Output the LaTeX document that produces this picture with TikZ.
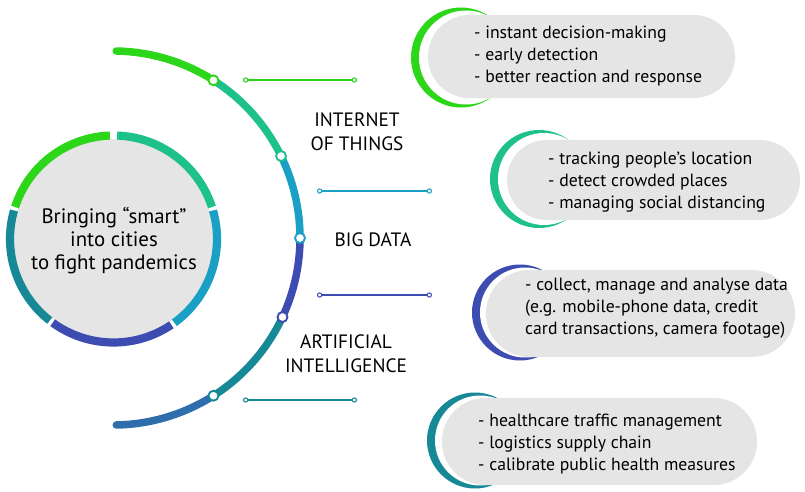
\documentclass[tikz,border=0pt]{standalone}
\usepackage{fontspec}
\setmainfont{PT Sans}
\usetikzlibrary{arrows.meta}

\definecolor{leafgreen}{RGB}{44,214,24}
\definecolor{mintgreen}{RGB}{30,192,140}
\definecolor{oceanblue}{RGB}{26,160,196}
\definecolor{deepindigo}{RGB}{60,76,176}
\definecolor{darkteal}{RGB}{22,136,150}
\definecolor{steelblue}{RGB}{46,110,172}
\definecolor{hubgray}{RGB}{229,229,229}

\tikzset{
  ring/.style={line width=7pt},
  band/.style={line width=6.4pt, line cap=round},
  dot/.style={circle, fill=white, draw=#1, line width=1.6pt, inner sep=0pt, minimum size=8.5pt},
  link/.style={draw=#1, line width=0.9pt, {Circle[open,length=4.5pt,width=4.5pt]}-{Circle[open,length=4.5pt,width=4.5pt]}},
  pill/.style={fill=hubgray, rectangle, inner sep=0pt},
  topic/.style={align=center, inner sep=0pt, font=\fontsize{16.5}{20.5}\selectfont},
  listtext/.style={align=left, inner sep=0pt, font=\fontsize{15.1}{18.8}\selectfont}
}

\begin{document}
\begin{tikzpicture}[x=0.03cm, y=0.03cm]
\useasboundingbox (0,0) rectangle (805,491);

% hub circle with its coloured ring
\fill[hubgray] (113.5,252) circle (100);
\draw[ring, leafgreen] (113.5,252) ++(92:103.5) arc[start angle=92, end angle=162, radius=103.5];
\draw[ring, mintgreen] (113.5,252) ++(18:103.5) arc[start angle=18, end angle=88, radius=103.5];
\draw[ring, oceanblue] (113.5,252) ++(-54:103.5) arc[start angle=-54, end angle=16, radius=103.5];
\draw[ring, deepindigo] (113.5,252) ++(-126:103.5) arc[start angle=-126, end angle=-56, radius=103.5];
\draw[ring, darkteal] (113.5,252) ++(164:103.5) arc[start angle=164, end angle=232, radius=103.5];
\node[align=center, inner sep=0pt, font=\fontsize{17.8}{19.6}\selectfont] (hub) at (114,250) {Bringing “smart”\\into cities\\to fight pandemics};

% big arc around the hub
\begin{scope}[shift={(113,253)}]
\draw[band, leafgreen] (89:187) arc[start angle=89, end angle=57.5, radius=187];
\draw[band, mintgreen] (57.5:187) arc[start angle=57.5, end angle=26, radius=187];
\draw[band, oceanblue] (26:187) arc[start angle=26, end angle=0, radius=187];
\draw[band, deepindigo] (0:187) arc[start angle=0, end angle=-25, radius=187];
\draw[band, darkteal] (-25:187) arc[start angle=-25, end angle=-57.5, radius=187];
\draw[band, steelblue] (-57.5:187) arc[start angle=-57.5, end angle=-89, radius=187];
\node[dot=leafgreen] (d1) at (57.5:187) {};
\node[dot=mintgreen] (d2) at (26:187) {};
\node[dot=oceanblue] (d3) at (0:187) {};
\node[dot=deepindigo] (d4) at (-25:187) {};
\node[dot=darkteal] (d5) at (-57.5:187) {};
\end{scope}

% short rules between the topics
\coordinate (r1a) at (243,411); \coordinate (r1b) at (357,411);
\coordinate (r2a) at (317,300); \coordinate (r2b) at (432,300);
\coordinate (r3a) at (317,196); \coordinate (r3b) at (432,196);
\coordinate (r4a) at (243,91);  \coordinate (r4b) at (357,91);
\draw[link=leafgreen] (r1a) -- (r1b);
\draw[link=oceanblue] (r2a) -- (r2b);
\draw[link=deepindigo] (r3a) -- (r3b);
\draw[link=darkteal] (r4a) -- (r4b);

\node[topic] (iot) at (357,359) {INTERNET\\OF THINGS};
\node[topic] (bigdata) at (373,251) {BIG DATA};
\node[topic] (ai) at (346,137) {ARTIFICIAL\\INTELLIGENCE};

% right-hand boxes: crescent, pill, list
\fill[leafgreen] (461,433.5) circle (50);
\fill[white] (466,433.5) circle (47);
\node[pill, minimum width=9.21cm, minimum height=2.49cm, rounded corners=1.24cm] (box1) at (581.5,434.5) {};
\node[listtext, anchor=west] (list1) at (474,435) {- instant decision-making\\- early detection\\- better reaction and response};

\fill[mintgreen] (539,312) circle (49);
\fill[white] (544,312) circle (46);
\node[pill, minimum width=8.79cm, minimum height=2.4cm, rounded corners=1.19cm] (box2) at (653.5,311) {};
\node[listtext, anchor=west] (list2) at (548,309) {- tracking people’s location\\- detect crowded places\\- managing social distancing};

\fill[deepindigo] (520,178.5) circle (48);
\fill[white] (525,178.5) circle (45);
\node[pill, minimum width=9.27cm, minimum height=2.61cm, rounded corners=1.3cm] (box3) at (640.5,177.5) {};
\node[listtext, anchor=west] (list3) at (525,183) {- collect, manage and analyse data\\(e.g. mobile-phone data, credit\\card transactions, camera footage)};

\fill[darkteal] (475,50.5) circle (48);
\fill[white] (480,50.5) circle (45);
\node[pill, minimum width=9.45cm, minimum height=2.61cm, rounded corners=1.3cm] (box4) at (599.5,49.5) {};
\node[listtext, anchor=west] (list4) at (478,47) {- healthcare traffic management\\- logistics supply chain\\- calibrate public health measures};
\end{tikzpicture}
\end{document}
